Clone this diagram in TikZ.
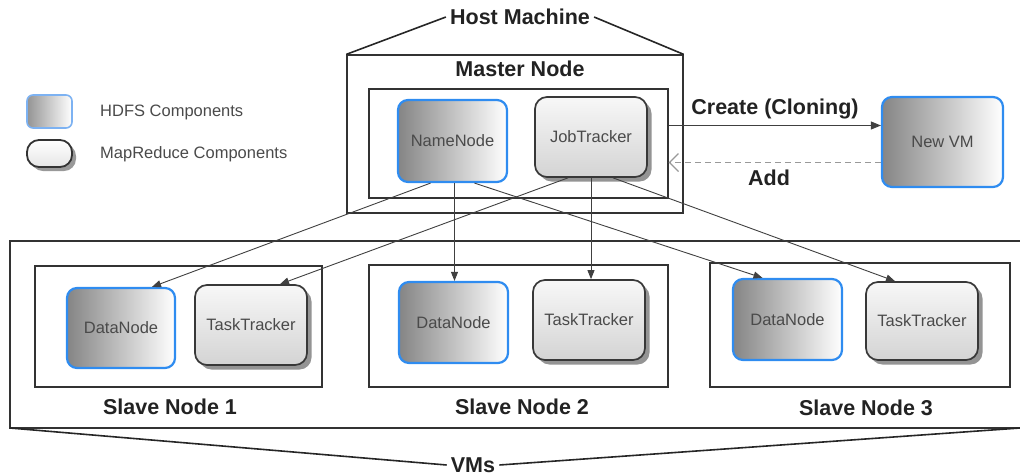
\documentclass[tikz,border=0pt]{standalone}
\usepackage{fontspec}
\setmainfont{Liberation Sans}
\usetikzlibrary{arrows.meta,shadows}

\definecolor{hdfsblue}{HTML}{2F8CF0}
\definecolor{legblue}{HTML}{7DB2F2}
\definecolor{inktext}{HTML}{4A4A4A}
\definecolor{labtext}{HTML}{222222}

\tikzset{
  txt/.style={font=\fontsize{16.5}{18}\selectfont, text=inktext},
  lbl/.style={font=\fontsize{21.5}{24}\selectfont\bfseries, text=labtext, inner sep=4pt},
  frame/.style={draw=black!80, line width=1.3pt, inner sep=0pt},
  hdfs/.style={rounded corners=10pt, draw=hdfsblue, line width=2.2pt,
    left color=black!48, right color=white, inner sep=0pt, txt},
  mapred/.style={rounded corners=12pt, draw=black!78, line width=1.7pt,
    top color=black!3, bottom color=black!17, inner sep=0pt, txt,
    drop shadow={shadow xshift=4.5pt, shadow yshift=-4.5pt, fill=black!42, opacity=1}},
  link/.style={draw=black!75, line width=0.9pt, -{Triangle[length=9pt,width=7pt]}},
  roof/.style={draw=black!85, line width=1.6pt},
}

\begin{document}
\begin{tikzpicture}[x=1pt, y=-1pt]
  \useasboundingbox (0,0) rectangle (1020,475);

  % host machine and master node frames
  \node[frame, minimum width=336pt, minimum height=158pt] (host) at (515,134) {};
  \node[frame, minimum width=299pt, minimum height=109pt] (master) at (518.5,143.5) {};
  \node[lbl] (hm) at (520,17) {Host Machine};
  \draw[roof] (host.north west) -- (hm.west);
  \draw[roof] (hm.east) -- (host.north east);
  \node[lbl] (mn) at (520,69) {Master Node};

  % master components
  \node[hdfs, minimum width=109pt, minimum height=82pt] (nn) at (452.5,141) {NameNode};
  \node[mapred, minimum width=112pt, minimum height=80pt] (jt) at (591,137) {JobTracker};

  % new virtual machine
  \node[hdfs, minimum width=121pt, minimum height=90pt] (vm) at (942.5,142) {New VM};
  \draw[draw=black!75, line width=0.9pt, -{Triangle[length=10pt,width=8pt]}]
    ([yshift=18pt]master.east) -- ([yshift=18pt]master.east -| vm.west);
  \draw[draw=black!40, line width=1.2pt, dash pattern=on 6pt off 4pt,
        -{Straight Barb[length=9pt,width=18pt]}]
    ([yshift=-19pt]master.east -| vm.west) -- ([yshift=-19pt]master.east);
  \node[lbl] (create) at (775,109) {Create (Cloning)};
  \node[lbl] (add) at (769,178) {Add};

  % legend
  \node[rounded corners=6pt, draw=legblue, line width=1.6pt, left color=black!42,
        right color=white, minimum width=45pt, minimum height=33pt] (lh) at (49.5,111.5) {};
  \node[rounded corners=12pt, draw=black!80, line width=1.8pt, top color=white,
        bottom color=black!10, minimum width=45pt, minimum height=27pt,
        drop shadow={shadow xshift=4pt, shadow yshift=-4pt, fill=black!40, opacity=1}]
        (lm) at (49.5,153.5) {};
  \node[txt, anchor=west, inner sep=0pt] (lht) at (100,112) {HDFS Components};
  \node[txt, anchor=west, inner sep=0pt] (lmt) at (100,154) {MapReduce Components};

  % virtual machines bracket
  \coordinate (vtl) at (10,241);
  \coordinate (vbl) at (10,428);
  \coordinate (vtr) at (1020,241);
  \coordinate (vbr) at (1020,428);
  \draw[draw=black!80, line width=1.3pt] (vtr) -- (vtl) -- (vbl) -- (vbr);
  \node[lbl] (vms) at (473,465) {VMs};
  \draw[roof] (vbl) -- (vms.west);
  \draw[roof] (vms.east) -- (vbr);

  % slave nodes
  \node[frame, minimum width=287pt, minimum height=121pt] (s1) at (178.5,326.5) {};
  \node[frame, minimum width=299pt, minimum height=122pt] (s2) at (518.5,326) {};
  \node[frame, minimum width=300pt, minimum height=124pt] (s3) at (860,325) {};
  \node[lbl] (s1l) at (170,407) {Slave Node 1};
  \node[lbl] (s2l) at (522,407) {Slave Node 2};
  \node[lbl] (s3l) at (866,408) {Slave Node 3};

  \node[hdfs, minimum width=108pt, minimum height=80pt] (dn1) at (121,328) {DataNode};
  \node[mapred, minimum width=112pt, minimum height=80pt] (tt1) at (251,325) {TaskTracker};
  \node[hdfs, minimum width=109pt, minimum height=81pt] (dn2) at (453.5,322.5) {DataNode};
  \node[mapred, minimum width=112pt, minimum height=80pt] (tt2) at (589,320) {TaskTracker};
  \node[hdfs, minimum width=109pt, minimum height=81pt] (dn3) at (787.5,319.5) {DataNode};
  \node[mapred, minimum width=112pt, minimum height=78pt] (tt3) at (922,321) {TaskTracker};

  % master to slave links
  \draw[link] ([xshift=-22pt]nn.south) -- ([xshift=31pt]dn1.north);
  \draw[link] ([xshift=2pt]nn.south) -- ([xshift=2pt]nn.south |- dn2.north);
  \draw[link] ([xshift=22pt]nn.south) -- ([xshift=-25pt]dn3.north);
  \draw[link] ([xshift=-23pt]jt.south) -- ([xshift=29pt]tt1.north);
  \draw[link] (jt.south) -- (jt.south |- tt2.north);
  \draw[link] ([xshift=22pt]jt.south) -- ([xshift=-27pt]tt3.north);
\end{tikzpicture}
\end{document}
